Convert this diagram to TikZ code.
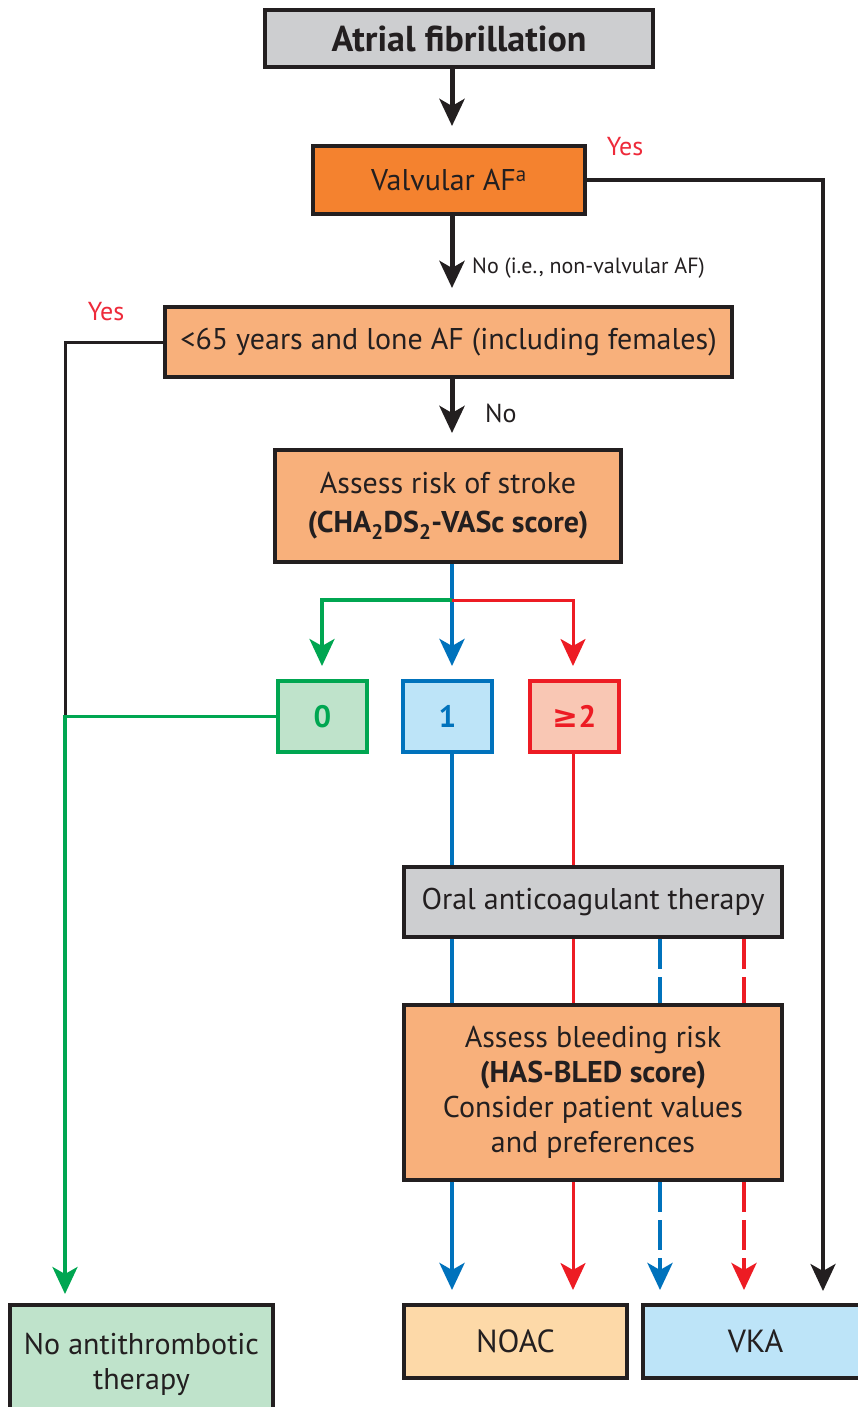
\documentclass[tikz,border=0pt]{standalone}
\usepackage{fontspec}
\setmainfont{PT Sans}
\newfontfamily\symf{DejaVu Sans}
\usetikzlibrary{arrows.meta}
\definecolor{txt}{HTML}{231F20}
\definecolor{boxgray}{HTML}{CDCED0}
\definecolor{orangeA}{HTML}{F4822F}
\definecolor{orangeB}{HTML}{F8B07B}
\definecolor{gline}{HTML}{00A651}
\definecolor{gfill}{HTML}{BFE3CB}
\definecolor{bline}{HTML}{0072BC}
\definecolor{bfill}{HTML}{BDE4F8}
\definecolor{rline}{HTML}{ED1C24}
\definecolor{rfill}{HTML}{F9C7B4}
\definecolor{noacfill}{HTML}{FDD9A8}
\definecolor{yesred}{HTML}{EE2A3A}
\tikzset{
  box/.style={draw=txt, line width=4pt, inner sep=0pt, text=txt, align=center,
    font=\fontsize{30}{35}\selectfont},
  scorebox/.style={line width=4pt, inner sep=0pt, minimum width=89pt, minimum height=71pt,
    font=\bfseries\fontsize{31}{35}\selectfont},
  tip/.style={-{Stealth[length=27pt,width=25pt,inset=7pt]}},
  blk/.style={draw=txt, line width=5pt},
  thinblk/.style={draw=txt, line width=3pt},
  bl/.style={draw=bline, line width=4.5pt},
  rd/.style={draw=rline, line width=3pt},
  gr/.style={draw=gline, line width=3.5pt},
  dsh/.style={dash pattern=on 30pt off 8pt},
  lbl/.style={inner sep=0pt, text=txt},
}
\begin{document}
\begin{tikzpicture}[x=1pt,y=-1pt]
\useasboundingbox (0,0) rectangle (858,1407);
\clip (0,0) rectangle (858,1407);
\fill[white] (0,0) rectangle (858,1407);

% boxes
\node[box, fill=boxgray, minimum width=388pt, minimum height=57pt, font=\bfseries\fontsize{36}{40}\selectfont] (af) at (459,38.5) {Atrial fibrillation};
\node[box, fill=orangeA, minimum width=272pt, minimum height=68pt] (val) at (449,180) {Valvular AF\textsuperscript{a}};
\node[box, fill=orangeB, minimum width=567pt, minimum height=70pt] (lone) at (448.5,342) {<65 years and lone AF (including females)};
\node[box, fill=orangeB, minimum width=346pt, minimum height=112pt] (stroke) at (448,506) {Assess risk of stroke\\[4pt]\textbf{(CHA\textsubscript{2}DS\textsubscript{2}-VASc score)}};
\node[scorebox, draw=gline, fill=gfill, text=gline] (s0) at (322.5,716.5) {0};
\node[scorebox, draw=bline, fill=bfill, text=bline] (s1) at (447.5,716.5) {1};
\node[scorebox, draw=rline, fill=rfill, text=rline] (s2) at (574.5,716.5) {{\symf\bfseries ≥}2};
\node[box, fill=boxgray, minimum width=378pt, minimum height=70pt] (oat) at (593,902) {Oral anticoagulant therapy};
\node[box, fill=orangeB, minimum width=378pt, minimum height=175pt] (bleed) at (593,1092.5) {Assess bleeding risk\\\textbf{(HAS-BLED score)}\\Consider patient values\\and preferences};
\node[box, fill=gfill, minimum width=263pt, minimum height=118pt] (none) at (141.5,1364) {No antithrombotic\\therapy};
\node[box, fill=noacfill, minimum width=223pt, minimum height=73pt, font=\fontsize{32}{36}\selectfont] (noac) at (515.5,1341.5) {NOAC};
\node[box, fill=bfill, minimum width=225pt, minimum height=73pt, font=\fontsize{32}{36}\selectfont] (vka) at (755.5,1341.5) {VKA};

% labels
\node[lbl, text=yesred, font=\fontsize{26}{30}\selectfont] (yes1) at (625,147) {Yes};
\node[lbl, text=yesred, font=\fontsize{26}{30}\selectfont] (yes2) at (106,312) {Yes};
\node[lbl, anchor=west, font=\fontsize{22}{26}\selectfont] (nolbl1) at (472,268) {No (i.e., non-valvular AF)};
\node[lbl, anchor=west, font=\fontsize{26}{30}\selectfont] (nolbl2) at (485,413) {No};

% column coordinates
\coordinate (cA) at (452,0);
\coordinate (cG) at (322,600);
\coordinate (cB) at (452,600);
\coordinate (cR) at (573,600);
\coordinate (cBd) at (660,0);
\coordinate (cRd) at (744,0);
\coordinate (cK) at (823,180);
\coordinate (cL) at (65,342);
\coordinate (cJ) at (65,716.5);

% black main arrows
\draw[blk, tip, shorten >=18pt] (af.south -| cA) -- (val.north -| cA);
\draw[blk, tip, shorten >=17pt] (val.south -| cA) -- (lone.north -| cA);
\draw[blk, tip, shorten >=15pt] (lone.south -| cA) -- (stroke.north -| cA);

% Yes to VKA
\draw[thinblk, line width=3.5pt, line join=miter, tip, shorten >=12pt] (val.east) -- (cK) -- (cK |- vka.north);

% Yes to No antithrombotic (black part)
\draw[thinblk] (lone.west) -- (cL) -- (cJ);

% stroke to score boxes
\draw[bl, tip, shorten >=13pt] (stroke.south -| cB) -- (s1.north -| cB);
\draw[gr, tip, shorten >=13pt] (cB) -- (cG) -- (s0.north -| cG);
\draw[rd, tip, shorten >=13pt] (cB) -- (cR) -- (s2.north -| cR);

% score 0 to no therapy
\draw[gr, tip, shorten >=9pt] (s0.west) -- (cJ) -- (none.north -| cJ);

% score 1 and >=2 to OAT
\draw[bl] (s1.south -| cB) -- (oat.north -| cB);
\draw[rd] (s2.south -| cR) -- (oat.north -| cR);

% OAT to bleeding
\draw[bl] (oat.south -| cB) -- (bleed.north -| cB);
\draw[rd] (oat.south -| cR) -- (bleed.north -| cR);
\draw[bl, dsh] (oat.south -| cBd) -- (bleed.north -| cBd);
\draw[rd, line width=4pt, dsh] (oat.south -| cRd) -- (bleed.north -| cRd);

% bleeding to NOAC / VKA
\draw[bl, tip, shorten >=13pt] (bleed.south -| cB) -- (noac.north -| cB);
\draw[rd, tip, shorten >=13pt] (bleed.south -| cR) -- (noac.north -| cR);
\draw[bl, dsh, tip, shorten >=13pt] (bleed.south -| cBd) -- (vka.north -| cBd);
\draw[rd, line width=4pt, dsh, tip, shorten >=13pt] (bleed.south -| cRd) -- (vka.north -| cRd);
\end{tikzpicture}
\end{document}
